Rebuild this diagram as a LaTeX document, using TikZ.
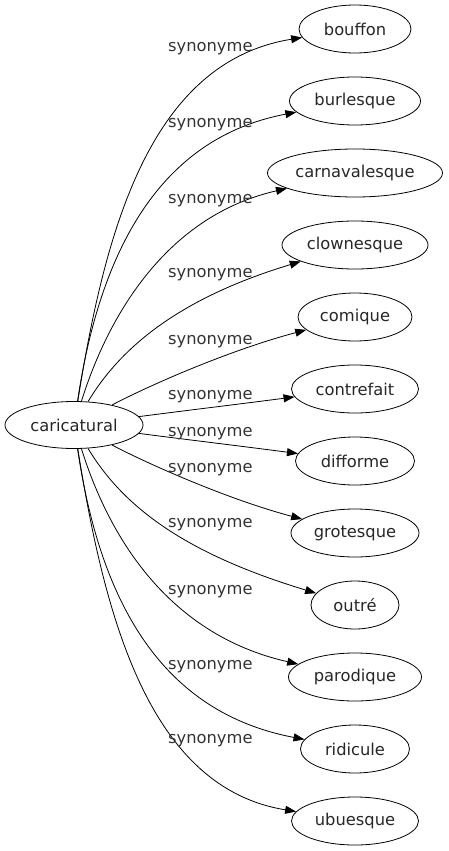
\documentclass[tikz,border=0pt]{standalone}
\usepackage{fontspec}
\setmainfont{DejaVu Sans}
\usepackage{tikz}
\usetikzlibrary{shapes.geometric,arrows.meta}

\tikzset{
    word/.style={ellipse, draw, line width=0.8pt, inner sep=0pt,
        minimum height=48pt, minimum width=#1,
        font=\fontsize{16.3}{19}\selectfont, text=black!85},
    rel/.style={->, >={Triangle[length=11pt,width=8pt]}, line width=0.8pt},
    relname/.style={anchor=base west, inner sep=0pt,
        font=\fontsize{16.3}{19}\selectfont, text=black!80}
}

\begin{document}
\begin{tikzpicture}[x=1pt, y=-1pt]
    \useasboundingbox (0,0) rectangle (449,851);

    % 中心词
    \node[word=138, minimum height=47pt] (car) at (74,425) {caricatural};

    % 同义词
    \node[word=112] (bouffon) at (355,29) {bouffon};
    \node[word=131] (burlesque) at (355,101) {burlesque};
    \node[word=175] (carnavalesque) at (355,173) {carnavalesque};
    \node[word=146] (clownesque) at (355,245) {clownesque};
    \node[word=114] (comique) at (355,317) {comique};
    \node[word=127] (contrefait) at (355,389) {contrefait};
    \node[word=119] (difforme) at (355,461) {difforme};
    \node[word=128] (grotesque) at (355,533) {grotesque};
    \node[word=88] (outre) at (355,605) {outré};
    \node[word=133] (parodique) at (355,677) {parodique};
    \node[word=109] (ridicule) at (355,749) {ridicule};
    \node[word=127] (ubuesque) at (355,821) {ubuesque};

    % 连线
    \draw[rel] (car) .. controls (105,230) and (150,62) .. (bouffon);
    \draw[rel] (car) .. controls (100,250) and (160,138) .. (burlesque);
    \draw[rel] (car) .. controls (110,310) and (170,215) .. (carnavalesque);
    \draw[rel] (car) .. controls (125,340) and (190,295) .. (clownesque);
    \draw[rel] (car) .. controls (150,385) and (230,350) .. (comique);
    \draw[rel] (car) .. controls (190,410) and (240,404) .. (contrefait);
    \draw[rel] (car) .. controls (190,440) and (240,446) .. (difforme);
    \draw[rel] (car) .. controls (150,465) and (230,500) .. (grotesque);
    \draw[rel] (car) .. controls (125,510) and (190,555) .. (outre);
    \draw[rel] (car) .. controls (110,540) and (170,635) .. (parodique);
    \draw[rel] (car) .. controls (100,600) and (160,712) .. (ridicule);
    \draw[rel] (car) .. controls (105,620) and (150,788) .. (ubuesque);

    % 关系标签
    \node[relname] (lbouffon) at (168,52) {synonyme};
    \node[relname] (lburlesque) at (168,127) {synonyme};
    \node[relname] (lcarnavalesque) at (168,203) {synonyme};
    \node[relname] (lclownesque) at (168,277) {synonyme};
    \node[relname] (lcomique) at (168,344) {synonyme};
    \node[relname] (lcontrefait) at (168,399) {synonyme};
    \node[relname] (ldifforme) at (168,436) {synonyme};
    \node[relname] (lgrotesque) at (168,472) {synonyme};
    \node[relname] (loutre) at (168,527) {synonyme};
    \node[relname] (lparodique) at (168,594) {synonyme};
    \node[relname] (lridicule) at (168,669) {synonyme};
    \node[relname] (lubuesque) at (168,743) {synonyme};
\end{tikzpicture}
\end{document}
